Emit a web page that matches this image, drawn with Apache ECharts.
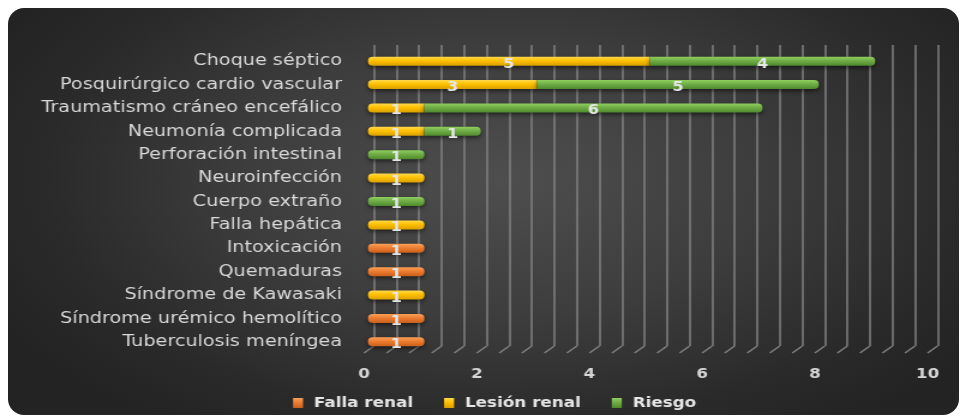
<!DOCTYPE html>
<html>
<head>
<meta charset="utf-8">
<script src="https://cdn.jsdelivr.net/npm/echarts@6/dist/echarts.min.js"></script>
<style>
  html, body { margin: 0; padding: 0; background: #ffffff; }
  #wrap { position: relative; width: 962px; height: 417px; overflow: hidden; }
  #panel {
    position: absolute; left: 8px; top: 8px; width: 951px; height: 407px;
    border-radius: 16px;
    background: radial-gradient(ellipse 60% 75% at 52% 42%, #4e4e4e 0%, #3d3d3d 45%, #2a2a2a 80%, #232323 100%);
  }
  /* the chart is laid out in a narrower box and widened, giving the broad lettering */
  #chart {
    position: absolute; left: 0; top: 0; width: 801.67px; height: 417px;
    transform: scaleX(1.2); transform-origin: 0 0;
  }
</style>
</head>
<body>
<div id="wrap">
  <div id="panel"></div>
  <div id="chart"></div>
</div>
<script>
// Diagnoses, top to bottom
const categories = [
  'Choque séptico',
  'Posquirúrgico cardio vascular',
  'Traumatismo cráneo encefálico',
  'Neumonía complicada',
  'Perforación intestinal',
  'Neuroinfección',
  'Cuerpo extraño',
  'Falla hepática',
  'Intoxicación',
  'Quemaduras',
  'Síndrome de Kawasaki',
  'Síndrome urémico hemolítico',
  'Tuberculosis meníngea'
];
const seriesNames = ['Falla renal', 'Lesión renal', 'Riesgo'];
const fallaRenal  = [null, null, null, null, null, null, null, null, 1, 1, null, 1, 1];
const lesionRenal = [5, 3, 1, 1, null, 1, null, 1, null, null, 1, null, null];
const riesgo      = [4, 5, 6, 1, 1, null, 1, null, null, null, null, null, null];
const xTicks = [0, 2, 4, 6, 8, 10];

const SX = 1.2;              // horizontal widening applied to the chart box
const px = v => v / SX;      // page x-distance -> chart-box x-distance

const values = [fallaRenal, lesionRenal, riesgo];
const palettes = [
  ['#f9a15a', '#ee7d31', '#c9601c'],
  ['#ffd94d', '#ffc000', '#d9a000'],
  ['#8fd05e', '#70ad47', '#4f8a2c']
];
const labelColor = '#e6e6e6';
const gridColor = '#808080';
const font = 'DejaVu Sans';

function grad(p) {
  return new echarts.graphic.LinearGradient(0, 0, 0, 1, [
    { offset: 0, color: p[0] }, { offset: 0.45, color: p[1] }, { offset: 1, color: p[2] }
  ]);
}

// Round only the outer ends of each stacked bar
function radiusFor(si, di) {
  let first = -1, last = -1;
  for (let k = 0; k < values.length; k++) {
    if (values[k][di] != null) { if (first < 0) first = k; last = k; }
  }
  const r = 4;
  return [si === first ? r : 0, si === last ? r : 0, si === last ? r : 0, si === first ? r : 0];
}

const xMin = xTicks[0], xMax = xTicks[xTicks.length - 1];
const plotW = px(563.5);

const barSeries = seriesNames.map((name, si) => ({
  name: name,
  type: 'bar',
  stack: 'total',
  xAxisIndex: 1,
  yAxisIndex: 1,
  barWidth: 9,
  itemStyle: {
    color: grad(palettes[si]),
    shadowColor: 'rgba(0,0,0,0.55)',
    shadowBlur: 4,
    shadowOffsetY: 2
  },
  label: {
    show: true,
    position: 'inside',
    offset: [0, 3],
    color: labelColor,
    fontFamily: font,
    fontWeight: 'bold',
    fontSize: 13.5,
    formatter: p => p.value
  },
  data: values[si].map((v, di) => ({
    value: v,
    itemStyle: { borderRadius: radiusFor(si, di) }
  }))
}));

// Slanted floor lines joining the back wall to the front edge
const floorSeries = {
  type: 'custom',
  xAxisIndex: 0,
  yAxisIndex: 0,
  silent: true,
  clip: false,
  data: [[0, 0]],
  z: 1,
  renderItem: function (params, api) {
    const children = [];
    const step = (xTicks[1] - xTicks[0]) / 5;
    for (let v = xMin; v <= xMax + 1e-9; v += step) {
      const p = api.coord([v, 0]);
      children.push({
        type: 'line',
        shape: { x1: p[0], y1: p[1], x2: p[0] - px(10), y2: p[1] + 7 },
        style: { stroke: gridColor, lineWidth: 1.5 }
      });
    }
    return { type: 'group', children: children };
  }
};

const chart = echarts.init(document.getElementById('chart'));
chart.setOption({
  backgroundColor: 'transparent',
  animation: false,
  grid: [
    { left: px(374), top: 45, width: plotW, height: 301 },   // back wall
    { left: px(368), top: 49.5, width: plotW, height: 304 },  // bars
    { left: px(364), top: 49.5, width: plotW, height: 304 }   // front edge with tick labels
  ],
  legend: {
    data: seriesNames,
    left: px(287),
    top: 391,
    itemWidth: px(10),
    itemHeight: 10,
    itemGap: px(31),
    icon: 'rect',
    textStyle: { color: labelColor, fontFamily: font, fontWeight: 'bold', fontSize: 14, padding: [0, 0, 0, 4] }
  },
  xAxis: [
    {
      gridIndex: 0, type: 'value', min: xMin, max: xMax, interval: 2,
      axisLine: { show: false }, axisTick: { show: false }, axisLabel: { show: false },
      splitLine: { show: true, lineStyle: { color: gridColor, width: 1.5 } },
      minorSplitLine: { show: true, lineStyle: { color: gridColor, width: 1.5 } },
      minorTick: { splitNumber: 5 }
    },
    {
      gridIndex: 1, type: 'value', min: xMin, max: xMax, interval: 2,
      axisLine: { show: false }, axisTick: { show: false }, axisLabel: { show: false },
      splitLine: { show: false }
    },
    {
      gridIndex: 2, type: 'value', min: xMin, max: xMax, interval: 2,
      axisLine: { show: false }, axisTick: { show: false }, splitLine: { show: false },
      axisLabel: {
        show: true, margin: 14, color: '#d6d6d6',
        fontFamily: font, fontWeight: 'bold', fontSize: 14,
        customValues: xTicks
      }
    }
  ],
  yAxis: [
    { gridIndex: 0, type: 'value', min: 0, max: 1, show: false },
    {
      gridIndex: 1, type: 'category', data: categories, inverse: true,
      axisLine: { show: false }, axisTick: { show: false }, splitLine: { show: false },
      axisLabel: { margin: px(26), color: '#d9d9d9', fontFamily: font, fontSize: 16 }
    },
    { gridIndex: 2, type: 'category', data: categories, inverse: true, show: false }
  ],
  series: [floorSeries].concat(barSeries)
});
</script>
</body>
</html>
